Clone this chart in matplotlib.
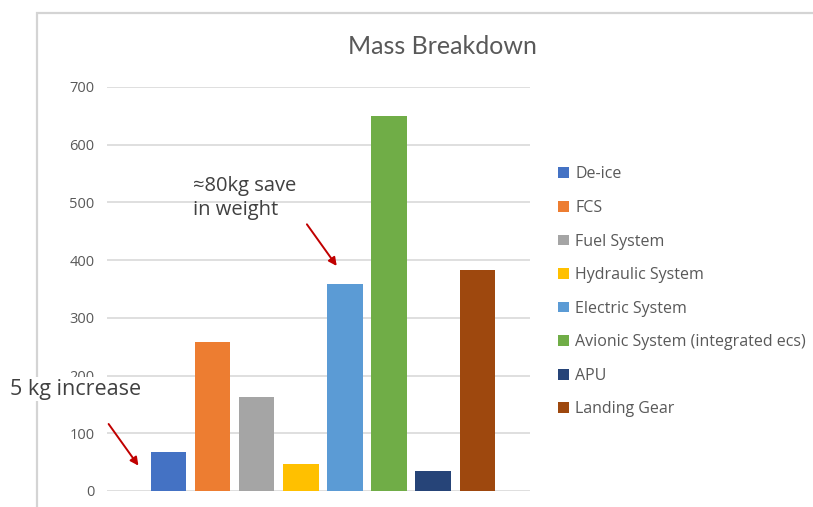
import matplotlib.pyplot as plt
from matplotlib.patches import Rectangle, Patch

# data
systems = ['De-ice', 'FCS', 'Fuel System', 'Hydraulic System', 'Electric System',
           'Avionic System (integrated ecs)', 'APU', 'Landing Gear']
mass_kg = [68, 258, 163, 47, 359, 650, 35, 383]
colors = ['#4472c4', '#ed7d31', '#a5a5a5', '#ffc000', '#5b9bd5',
          '#70ad47', '#264478', '#9e480e']
yticks = [0, 100, 200, 300, 400, 500, 600, 700]

plt.rcParams['font.family'] = ['Open Sans', 'DejaVu Sans']
text_grey = '#595959'

fig = plt.figure(figsize=(8.13, 5.07), dpi=100)
ax = fig.add_axes([107 / 813, 1 - 491 / 507, 423 / 813, 404 / 507])

# outer chart frame
fig.patches.append(Rectangle((37 / 813, -0.05), 1.0, 1 - 13 / 507 + 0.05,
                             transform=fig.transFigure, fill=False,
                             edgecolor='#d4d4d4', linewidth=1.6))

x = list(range(len(systems)))
ax.bar(x, mass_kg, width=0.8, color=colors, zorder=3)

ax.set_ylim(0, 700)
ax.set_xlim(-1.4, 8.2)
ax.set_yticks(yticks)
ax.set_xticks([])
ax.grid(axis='y', color='#d9d9d9', linewidth=1.2, zorder=0)
for s in ax.spines.values():
    s.set_visible(False)
ax.tick_params(axis='y', length=0, pad=9, labelsize=10.5, labelcolor=text_grey)

fig.text(442 / 813, 1 - 47 / 507, 'Mass Breakdown', ha='center', va='center',
         fontsize=18, color=text_grey, family=['Lato', 'DejaVu Sans'])

handles = [Patch(facecolor=c, edgecolor='none') for c in colors]
fig.legend(handles, systems, loc='upper left', bbox_to_anchor=(552 / 813, 1 - 160 / 507),
           frameon=False, fontsize=11.5, labelcolor=text_grey, handlelength=0.65,
           handleheight=0.65, handletextpad=0.4, labelspacing=1.1, borderaxespad=0)

# annotations
ann_color = '#404040'
arrow_red = '#c00000'
fig.text(10 / 813, 1 - 389 / 507, '5 kg increase', ha='left', va='center', fontsize=15.5,
         color=ann_color, bbox=dict(facecolor='white', edgecolor='none', pad=1))
ax.annotate('', xy=(-0.65, 40), xytext=(-1.4, 120),
            arrowprops=dict(arrowstyle='-|>', color=arrow_red, lw=1.4, mutation_scale=12),
            annotation_clip=False)

fig.text(193 / 813, 1 - 198 / 507, '≈80kg save\nin weight', ha='left', va='center',
         fontsize=14.5, color=ann_color, linespacing=1.25)
ax.annotate('', xy=(3.85, 386), xytext=(3.1, 466),
            arrowprops=dict(arrowstyle='-|>', color=arrow_red, lw=1.4, mutation_scale=12))

fig.savefig('out.png', dpi=100)
